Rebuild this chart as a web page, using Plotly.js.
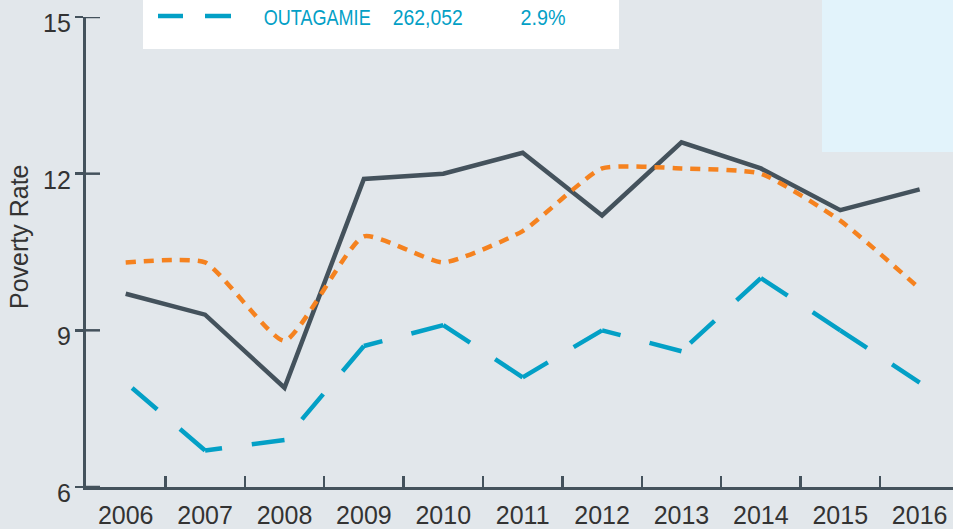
<!DOCTYPE html>
<html>
<head>
<meta charset="utf-8">
<script src="https://cdn.plot.ly/plotly-3.0.1.min.js"></script>
<style>html,body{margin:0;padding:0;background:#e2e7eb;}#chart{width:953px;height:529px;}</style>
</head>
<body>
<div id="chart"></div>
<script>
// ---- data ----
const years = ["2006","2007","2008","2009","2010","2011","2012","2013","2014","2015","2016"];
const graySeries   = [9.7, 9.3, 7.9, 11.9, 12.0, 12.4, 11.2, 12.6, 12.1, 11.3, 11.7];
const orangeSeries = [10.3, 10.3, 8.8, 10.8, 10.3, 10.9, 12.1, 12.1, 12.0, 11.1, 9.8];
const blueSeries   = [8.0, 6.7, 6.9, 8.7, 9.1, 8.1, 9.0, 8.6, 10.0, 9.0, 8.0];
const yTicks = [6, 9, 12, 15];
const yTickLabels = ["6", "9", "12", "15"];
const legendTexts = ["OUTAGAMIE", "262,052", "2.9%"];
const yTitle = "Poverty Rate";

const axisColor = "#44525c";
const textColor = "#333333";
const blue = "#03a0c6";
const W = 953, H = 529, mL = 86, mR = 0, mT = 17, mB = 42;
const pw = W - mL - mR, ph = H - mT - mB;
const px = v => (v - mL) / pw;       // pixel x -> paper
const py = v => (H - mB - v) / ph;   // pixel y -> paper

const traces = [
  {x: years, y: graySeries, type: "scatter", mode: "lines",
   line: {color: axisColor, width: 4.5}, hoverinfo: "skip"},
  {x: years, y: orangeSeries, type: "scatter", mode: "lines",
   line: {color: "#f5821f", width: 4.5, dash: "10px,8px", shape: "spline", smoothing: 0.5}, hoverinfo: "skip"}
];
// blue long-dash line: the original dashes each segment on its own, starting from its later end
for (let i = 0; i < years.length - 1; i++) {
  traces.push({x: [years[i + 1], years[i]], y: [blueSeries[i + 1], blueSeries[i]], type: "scatter", mode: "lines",
    line: {color: blue, width: 4.5, dash: "33px,30px"}, hoverinfo: "skip"});
}

const shapes = [
  {type: "rect", xref: "paper", yref: "paper", x0: px(822), x1: 1, y0: py(152), y1: py(0),
   fillcolor: "#e2f3fb", line: {width: 0}, layer: "below"},
  {type: "rect", xref: "paper", yref: "paper", x0: px(143), x1: px(619), y0: py(49), y1: py(0),
   fillcolor: "#ffffff", line: {width: 0}, layer: "above"},
  {type: "line", xref: "paper", yref: "paper", x0: px(158), x1: px(183), y0: py(16), y1: py(16),
   line: {color: blue, width: 4.5}},
  {type: "line", xref: "paper", yref: "paper", x0: px(205), x1: px(231), y0: py(16), y1: py(16),
   line: {color: blue, width: 4.5}}
];
yTicks.forEach(t => shapes.push({type: "line", xref: "paper", yref: "y", x0: 0, x1: 14 / pw, y0: t, y1: t,
  line: {color: axisColor, width: 2.5}}));

const annotations = [];
const legendCenters = [316.5, 428, 542.5];
const legendWidths = [107, 70, 45];
legendTexts.forEach((t, i) => annotations.push({
  text: t, xref: "paper", yref: "paper", x: px(legendCenters[i]), y: py(17), xanchor: "center", yanchor: "middle",
  showarrow: false, font: {family: "Liberation Sans, Arial, sans-serif", size: 22, color: blue}
}));
yTicks.forEach((t, i) => annotations.push({
  text: yTickLabels[i], xref: "paper", yref: "y", x: px(73), y: t, xanchor: "right", yanchor: "middle", yshift: -6,
  showarrow: false, font: {family: "Liberation Sans, Arial, sans-serif", size: 25, color: textColor}
}));
annotations.push({
  text: yTitle, xref: "paper", yref: "paper", x: px(19), y: py(237), xanchor: "center", yanchor: "middle",
  textangle: -90, showarrow: false, font: {family: "Liberation Sans, Arial, sans-serif", size: 25, color: textColor}
});

const layout = {
  width: W, height: H,
  margin: {l: mL, r: mR, t: mT, b: mB, pad: 0},
  paper_bgcolor: "#e2e7eb", plot_bgcolor: "#e2e7eb",
  showlegend: false,
  xaxis: {type: "category", categoryorder: "array", categoryarray: years, range: [-0.5, 10.42],
    showgrid: false, zeroline: false, showline: true, linecolor: axisColor, linewidth: 3,
    ticks: "inside", ticklen: 11, tickwidth: 2.5, tickcolor: axisColor, tickson: "boundaries",
    tickfont: {family: "Liberation Sans, Arial, sans-serif", size: 25, color: textColor},
    ticklabelstandoff: 4, fixedrange: true},
  yaxis: {range: [6, 15], tickvals: yTicks, showticklabels: false,
    showgrid: false, zeroline: false, showline: true, linecolor: axisColor, linewidth: 3,
    ticks: "outside", ticklen: 8, tickwidth: 2.5, tickcolor: axisColor, fixedrange: true},
  shapes: shapes,
  annotations: annotations
};

Plotly.newPlot("chart", traces, layout, {displayModeBar: false, staticPlot: true}).then(() => {
  // condense the legend-row texts to the narrow widths of the original typeface
  legendWidths.forEach((w, i) => {
    const el = document.querySelector('g.annotation[data-index="' + i + '"] text.annotation-text');
    if (el) { el.setAttribute("textLength", w); el.setAttribute("lengthAdjust", "spacingAndGlyphs"); }
  });
});
</script>
</body>
</html>
